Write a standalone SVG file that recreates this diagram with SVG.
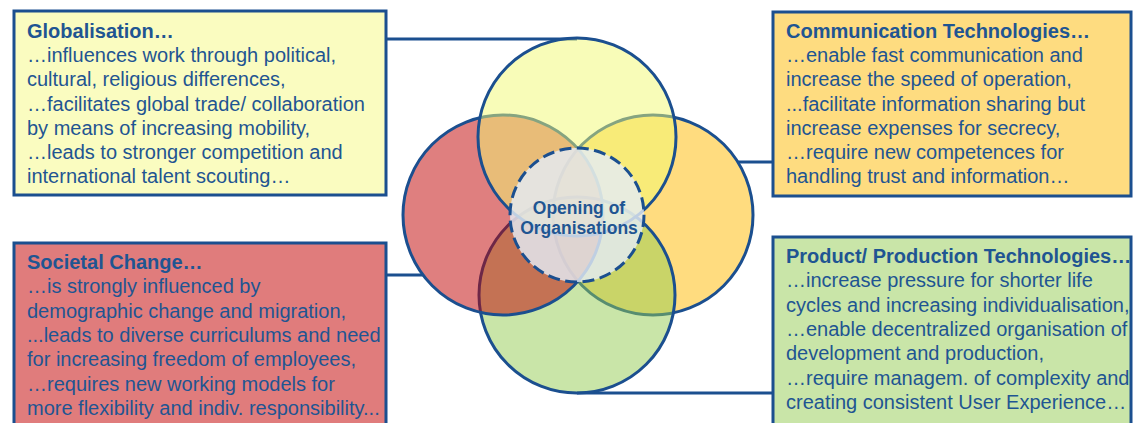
<svg xmlns="http://www.w3.org/2000/svg" width="1133" height="423" viewBox="0 0 1133 423">
<defs>
<style>
.box{stroke:#1B4F8F;stroke-width:3}
.t{font-family:"Liberation Sans",Arial,sans-serif;font-size:20px;fill:#1F5592}
.b{font-weight:bold}
.circ{stroke:#1B4F8F;stroke-width:3;fill-opacity:0.5}
.conn{stroke:#1B4F8F;stroke-width:3;fill:none}
.ctr{font-family:"Liberation Sans",Arial,sans-serif;font-size:17.5px;font-weight:bold;fill:#1F5592;text-anchor:middle}
</style>
<clipPath id="c1"><rect x="14" y="11" width="372" height="184"/></clipPath>
<clipPath id="c2"><rect x="773" y="12" width="360" height="184"/></clipPath>
<clipPath id="c3"><rect x="14" y="243" width="372" height="190"/></clipPath>
<clipPath id="c4"><rect x="773" y="237" width="360" height="196"/></clipPath>
</defs>
<rect width="1133" height="423" fill="#fff"/>
<g id="connectors">
<line class="conn" x1="386" y1="39" x2="577" y2="39"/>
<line class="conn" x1="738" y1="162" x2="773" y2="162"/>
<line class="conn" x1="386" y1="275" x2="423" y2="275"/>
<line class="conn" x1="577" y1="393" x2="773" y2="393"/>
</g>
<g id="venn">
<circle id="communication-circle" class="circ" cx="653" cy="215" r="100" fill="#FFBA00"/>
<circle id="product-circle" class="circ" cx="577" cy="295" r="98" fill="#93CB51"/>
<circle id="societal-circle" class="circ" cx="503" cy="215" r="100" fill="#C00000"/>
<circle id="globalisation-circle" class="circ" cx="577" cy="137" r="99" fill="#F2F971"/>
</g>
<g id="center">
<circle cx="577" cy="215" r="67" fill="#E4ECF4" fill-opacity="0.82" stroke="#1B4F8F" stroke-width="3" stroke-dasharray="12 5.5"/>
<text class="ctr" x="579" y="213.5">Opening of</text>
<text class="ctr" x="579" y="234">Organisations</text>
</g>
<g id="globalisation">
<rect class="box" x="14" y="11" width="372" height="184" fill="#FAFCC0"/>
<g clip-path="url(#c1)">
<text class="t b" x="27" y="38">Globalisation…</text>
<text class="t" x="27" y="62.2">…influences work through political,</text>
<text class="t" x="27" y="86.4">cultural, religious differences,</text>
<text class="t" x="27" y="110.6">…facilitates global trade/ collaboration</text>
<text class="t" x="27" y="134.8">by means of increasing mobility,</text>
<text class="t" x="27" y="159">…leads to stronger competition and</text>
<text class="t" x="27" y="183.2">international talent scouting…</text>
</g>
</g>
<g id="communication">
<rect class="box" x="773" y="12" width="358" height="184" fill="#FEDC80"/>
<g clip-path="url(#c2)">
<text class="t b" x="786" y="38">Communication Technologies…</text>
<text class="t" x="786" y="62.2">…enable fast communication and</text>
<text class="t" x="786" y="86.4">increase the speed of operation,</text>
<text class="t" x="786" y="110.6">...facilitate information sharing but</text>
<text class="t" x="786" y="134.8">increase expenses for secrecy,</text>
<text class="t" x="786" y="159">…require new competences for</text>
<text class="t" x="786" y="183.2">handling trust and information…</text>
</g>
</g>
<g id="societal">
<rect class="box" x="14" y="243" width="372" height="190" fill="#E07C7C"/>
<g clip-path="url(#c3)">
<text class="t b" x="27" y="269">Societal Change…</text>
<text class="t" x="27" y="293.3">…is strongly influenced by</text>
<text class="t" x="27" y="317.6">demographic change and migration,</text>
<text class="t" x="27" y="341.9">...leads to diverse curriculums and need</text>
<text class="t" x="27" y="366.2">for increasing freedom of employees,</text>
<text class="t" x="27" y="390.5">…requires new working models for</text>
<text class="t" x="27" y="414.8">more flexibility and indiv. responsibility...</text>
</g>
</g>
<g id="product">
<rect class="box" x="773" y="237" width="358" height="196" fill="#C9E5A8"/>
<g clip-path="url(#c4)">
<text class="t b" x="786" y="263">Product/ Production Technologies…</text>
<text class="t" x="786" y="287.3">…increase pressure for shorter life</text>
<text class="t" x="786" y="311.6">cycles and increasing individualisation,</text>
<text class="t" x="786" y="335.9">…enable decentralized organisation of</text>
<text class="t" x="786" y="360.2">development and production,</text>
<text class="t" x="786" y="384.5">…require managem. of complexity and</text>
<text class="t" x="786" y="408.8">creating consistent User Experience…</text>
</g>
</g>
</svg>
